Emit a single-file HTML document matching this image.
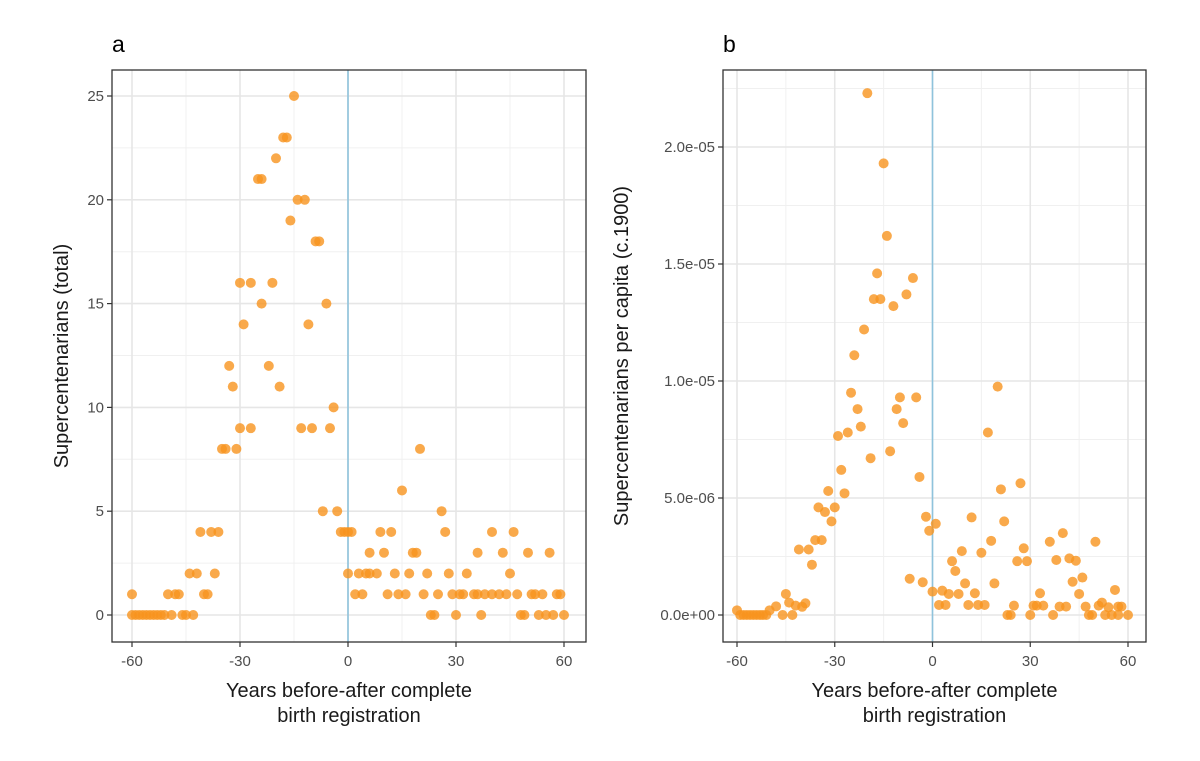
<!DOCTYPE html>
<html><head><meta charset="utf-8"><style>
body{margin:0;background:#fff;}
svg text{font-family:"Liberation Sans",sans-serif;}
</style></head><body>
<svg id="chart" width="1200" height="756" viewBox="0 0 1200 756" xmlns="http://www.w3.org/2000/svg">
<rect width="1200" height="756" fill="#fff"/>
</svg>
<script>
// Panel a data
const aYears = [-60,-59,-58,-57,-56,-55,-54,-53,-52,-51,-49,-46,-45,-43,
  -60,-50,-48,-47,-40,-39, -44,-42,-37, -41,-38,-36,
  -35,-34,-31, -30,-27,-13,-10,-5, -4, -32,-19, -33,-22, -29,-11, -24,-6, -30,-27,-21,
  -9,-8, -16, -14,-12, -25,-24, -20, -18,-17, -15, -7,-3, -2,-1,1,
  20,15,26, 0,9,12,27,40,46, 6,10,18,19,36,43,50,56,
  0,3,5,6,8,13,17,22,28,33,45,
  2,4,11,14,16,21,25,29,31,32,35,36,38,40,42,44,47,51,52,54,58,59,
  23,24,30,37,48,49,53,55,57,60];
const aValues = [0,0,0,0,0,0,0,0,0,0,0,0,0,0,
  1,1,1,1,1,1, 2,2,2, 4,4,4,
  8,8,8, 9,9,9,9,9, 10, 11,11, 12,12, 14,14, 15,15, 16,16,16,
  18,18, 19, 20,20, 21,21, 22, 23,23, 25, 5,5, 4,4,4,
  8,6,5, 4,4,4,4,4,4, 3,3,3,3,3,3,3,3,
  2,2,2,2,2,2,2,2,2,2,2,
  1,1,1,1,1,1,1,1,1,1,1,1,1,1,1,1,1,1,1,1,1,1,
  0,0,0,0,0,0,0,0,0,0];
const aYTicks = [0,5,10,15,20,25];
const aYTickLabels = ["0","5","10","15","20","25"];
const xTicks = [-60,-30,0,30,60];
const xTickLabels = ["-60","-30","0","30","60"];

// Panel b data (values in units of 1e-6)
const bYears = [-20,-15,-14,-17,-6,-18,-16,-8,-12,-21,-24,-25,-10,-5,-23,-11,-22,-9,-29,-26,-19,-13,-4,-28,-32,-27,
  -35,-33,-30,-31,-2,1,-1,-36,-34,-41,-38,-37,-7,-3,0,-45,-44,-42,-40,-39,-60,
  -59,-58,-57,-56,-55,-54,-53,-52,-51,-50,-48,-46,-43,
  20,17,27,21,12,22,40,50,36,18,28,9,15,26,29,38,42,44,6,7,10,19,43,46,56,
  3,5,8,13,33,45,2,4,11,14,16,25,31,32,34,39,41,47,51,52,54,57,58,
  23,24,30,37,48,49,53,55,57,60];
const bValues = [22.3,19.3,16.2,14.6,14.4,13.5,13.5,13.7,13.2,12.2,11.1,9.5,9.3,9.3,8.8,8.8,8.05,8.2,7.65,7.8,6.7,7.0,5.9,6.2,5.3,5.2,
  4.6,4.4,4.6,4.0,4.2,3.9,3.6,3.2,3.2,2.8,2.8,2.15,1.55,1.4,1.0,0.9,0.53,0.4,0.35,0.5,0.2,
  0,0,0,0,0,0,0,0,0,0.2,0.37,0,0,
  9.76,7.8,5.63,5.37,4.17,4.0,3.5,3.13,3.13,3.17,2.85,2.73,2.66,2.3,2.3,2.35,2.42,2.32,2.3,1.88,1.35,1.35,1.42,1.6,1.07,
  1.04,0.9,0.9,0.93,0.93,0.9,0.43,0.43,0.43,0.43,0.43,0.4,0.4,0.4,0.4,0.36,0.36,0.36,0.4,0.53,0.33,0.36,0.36,
  0,0,0,0,0,0,0,0,0,0];
const bYTicks = [0,5,10,15,20];
const bYTickLabels = ["0.0e+00","5.0e-06","1.0e-05","1.5e-05","2.0e-05"];

const NS = "http://www.w3.org/2000/svg";
const svg = document.getElementById("chart");
function mk(tag, attrs, parent){
  const e = document.createElementNS(NS, tag);
  for (const k in attrs) e.setAttribute(k, attrs[k]);
  (parent||svg).appendChild(e);
  return e;
}

function panel(cfg){
  const g = mk("g", {});
  
  
  const xs = v => cfg.x0 + (v + 60) * (cfg.x60 - cfg.x0) / 120;
  const ys = v => cfg.y0 - v * cfg.yUnit;
  // minor grid
  for (let i = 0; i < xTicks.length - 1; i++) {
    const m = (xTicks[i] + xTicks[i+1]) / 2;
    const l = mk("line", {x1:xs(m), x2:xs(m), y1:cfg.top, y2:cfg.bottom, stroke:"#f0f0f0", "stroke-width":1}, g);
    
    
  }
  const yt = cfg.yTicks;
  const step = yt[1] - yt[0];
  for (let v = yt[0] - step/2; v <= yt[yt.length-1] + step; v += step) {
    const y = ys(v);
    if (y < cfg.top || y > cfg.bottom) continue;
    const l = mk("line", {x1:cfg.left, x2:cfg.right, y1:y, y2:y, stroke:"#f0f0f0", "stroke-width":1}, g);
    
    
  }
  // major grid + ticks
  xTicks.forEach((v, i) => {
    const x = xs(v);
    const l = mk("line", {x1:x, x2:x, y1:cfg.top, y2:cfg.bottom, stroke:"#e6e6e6", "stroke-width":1.6}, g);
    
    
    const t = mk("line", {x1:x, x2:x, y1:cfg.bottom, y2:cfg.bottom + 5, stroke:"#333", "stroke-width":1.2}, g);
    
    
    const tx = mk("text", {x:x, y:cfg.bottom + 24, "text-anchor":"middle", "font-size":15, fill:"#4d4d4d"}, g);
    tx.textContent = xTickLabels[i];
    
    
  });
  yt.forEach((v, i) => {
    const y = ys(v);
    const l = mk("line", {x1:cfg.left, x2:cfg.right, y1:y, y2:y, stroke:"#e6e6e6", "stroke-width":1.6}, g);
    
    
    const t = mk("line", {x1:cfg.left - 5, x2:cfg.left, y1:y, y2:y, stroke:"#333", "stroke-width":1.2}, g);
    
    
    const tx = mk("text", {x:cfg.left - 8, y:y + 5, "text-anchor":"end", "font-size":15, fill:"#4d4d4d"}, g);
    tx.textContent = cfg.yLabels[i];
    
    
  });
  // zero line
  const z = mk("line", {x1:xs(0), x2:xs(0), y1:cfg.top, y2:cfg.bottom, stroke:"#8fc3dc", "stroke-width":1.6}, g);
  
  
  // points
  cfg.xData.forEach((yr, i) => {
    const c = mk("circle", {cx:xs(yr), cy:ys(cfg.yData[i]), r:5, fill:"#f7931e", "fill-opacity":0.8}, g);
    
    
  });
  // border
  const b = mk("rect", {x:cfg.left, y:cfg.top, width:cfg.right - cfg.left, height:cfg.bottom - cfg.top, fill:"none", stroke:"#333", "stroke-width":1.3}, g);
  
  
  // titles
  const cx = (cfg.left + cfg.right) / 2;
  const t1 = mk("text", {x:cx, y:697, "text-anchor":"middle", "font-size":20, fill:"#1a1a1a"}, g);
  t1.textContent = "Years before-after complete";
  
  
  const t2 = mk("text", {x:cx, y:722, "text-anchor":"middle", "font-size":20, fill:"#1a1a1a"}, g);
  t2.textContent = "birth registration";
  
  
  const cy = (cfg.top + cfg.bottom) / 2;
  const yT = mk("text", {x:cfg.yTitleX, y:cy, "text-anchor":"middle", "font-size":20, fill:"#1a1a1a", transform:"rotate(-90 " + cfg.yTitleX + " " + cy + ")"}, g);
  yT.textContent = cfg.yTitle;
  
  
  const pl = mk("text", {x:cfg.left, y:52, "font-size":23, fill:"#000"}, g);
  pl.textContent = cfg.label;
  
  
}

panel({name:"panel-a-total", left:112, right:586, top:70, bottom:642, x0:132, x60:564, y0:615, yUnit:20.76,
  yTicks:aYTicks, yLabels:aYTickLabels, xData:aYears, yData:aValues, yTitle:"Supercentenarians (total)", yTitleX:68, label:"a"});
panel({name:"panel-b-per-capita", left:723, right:1146, top:70, bottom:642, x0:737, x60:1128, y0:615, yUnit:23.4,
  yTicks:bYTicks, yLabels:bYTickLabels, xData:bYears, yData:bValues, yTitle:"Supercentenarians per capita (c.1900)", yTitleX:628, label:"b"});
</script>
</body></html>
